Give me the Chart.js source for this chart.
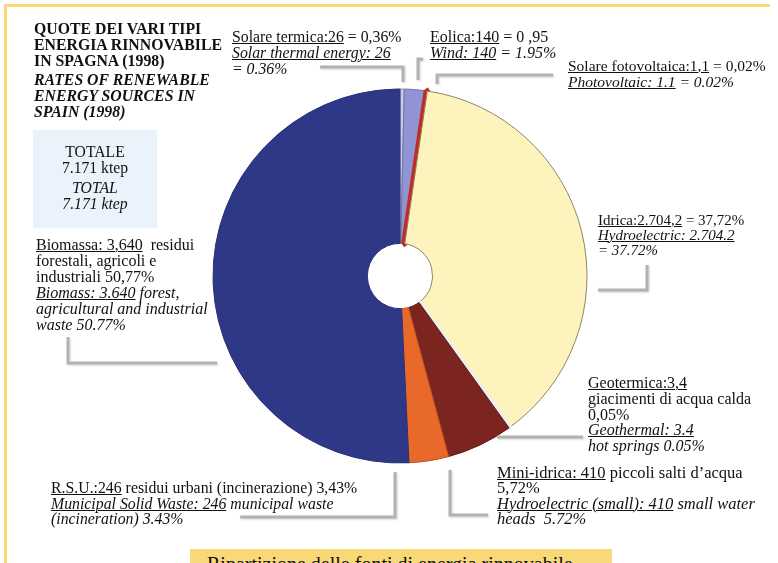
<!DOCTYPE html>
<html>
<head>
<meta charset="utf-8">
<script src="https://cdn.jsdelivr.net/npm/chart.js@4.4.1/dist/chart.umd.min.js"></script>
<style>
  html, body { margin: 0; padding: 0; background: #fff; }
  #wrap { position: relative; width: 778px; height: 563px; overflow: hidden; font-family: "Liberation Serif", "Times New Roman", serif; color: #111; }
  canvas { position: absolute; left: 0; top: 0; }
  .t { position: absolute; font-size: 15.8px; line-height: 16px; white-space: nowrap; }
  .t u { text-decoration-thickness: 1px; text-underline-offset: 1px; }
  .title { font-weight: bold; font-size: 15.8px; left: 34px; }
  .bar { position: absolute; background: #fbd979; }
</style>
</head>
<body>
<div id="wrap">
  <canvas id="c" width="778" height="563"></canvas>
  <div class="bar" style="left:4px;top:4px;width:3px;height:559px"></div>
  <div class="bar" style="left:4px;top:4px;width:766px;height:3px"></div>

  <div class="t title" style="top:21px">QUOTE DEI VARI TIPI<br>ENERGIA RINNOVABILE<br>IN SPAGNA (1998)</div>
  <div class="t title" style="top:72px;font-style:italic">RATES OF RENEWABLE<br>ENERGY SOURCES IN<br>SPAIN (1998)</div>

  <div style="position:absolute;left:33px;top:130px;width:124px;height:98px;background:#eaf2fb"></div>
  <div class="t" style="left:33px;width:124px;text-align:center;top:144px;font-size:15.7px">TOTALE<br>7.171 ktep</div>
  <div class="t" style="left:33px;width:124px;text-align:center;top:180px;font-style:italic;font-size:15.7px">TOTAL<br>7.171 ktep</div>

  <div class="t" style="left:232px;top:29px"><u>Solare termica:26</u> = 0,36%<br><i><u>Solar thermal energy: 26</u></i><br><i>= 0.36%</i></div>
  <div class="t" style="left:430px;top:29px;font-size:16px"><u>Eolica:140</u> = 0 ,95<br><i><u>Wind: 140</u> = 1.95%</i></div>
  <div class="t" style="left:568px;top:58px;font-size:15.5px"><u>Solare fotovoltaica:1,1</u> = 0,02%<br><i><u>Photovoltaic: 1.1</u> = 0.02%</i></div>
  <div class="t" style="left:598px;top:213px;line-height:15px;font-size:15px"><u>Idrica:2.704,2</u> = 37,72%<br><i><u>Hydroelectric: 2.704.2</u></i><br><i>= 37.72%</i></div>
  <div class="t" style="left:588px;top:375px;line-height:15.8px;font-size:16px"><u>Geotermica:3,4</u><br>giacimenti di acqua calda<br>0,05%<br><i><u>Geothermal: 3.4</u></i><br><i>hot springs 0.05%</i></div>
  <div class="t" style="left:497px;top:465px;line-height:15.3px;font-size:16.5px"><u>Mini-idrica: 410</u> piccoli salti d’acqua<br>5,72%<br><i><u>Hydroelectric (small): 410</u> small water</i><br><i>heads&nbsp; 5.72%</i></div>
  <div class="t" style="left:51px;top:480px;line-height:15.5px"><u>R.S.U.:246</u> residui urbani (incinerazione) 3,43%<br><i><u>Municipal Solid Waste: 246</u> municipal waste</i><br><i>(incineration) 3.43%</i></div>
  <div class="t" style="left:36px;top:237px;font-size:16px"><u>Biomassa: 3,640</u>&nbsp; residui<br>forestali, agricoli e<br>industriali 50,77%<br><i><u>Biomass: 3.640</u> forest,</i><br><i>agricultural and industrial</i><br><i>waste 50.77%</i></div>

  <div style="position:absolute;left:190px;top:549px;width:422px;height:30px;background:#f9d878"></div>
  <div class="t" style="left:207px;top:552px;font-size:20px;line-height:24px">Ripartizione delle fonti di energia rinnovabile</div>
</div>
<script>
// ---- data (ktep, 1998) ----
const categories = ["Solare termica", "Eolica", "Solare fotovoltaica", "Idrica", "Geotermica", "Mini-idrica", "R.S.U.", "Biomassa"];
const valuesKtep = [26, 140, 1.1, 2704.2, 3.4, 410, 246, 3640];

// ---- styles ----
const sliceColors = ["#c9cbe9", "#8f95d3", "#c32a22", "#fdf4bd", "#eeeef5", "#7c2420", "#e8692a", "#2f3886"];
const sliceBorderColors = ["#8f8fa8", "#6f74a8", "#c32a22", "#8e8466", "#eeeef5", "#5a1a18", "#b5521f", "#2a3278"];
const sliceBorderWidths = [1, 1, 7, 1, 5, 1, 1, 1];

// leader line layout (decorative connectors, pixels)
const leaders = [
  [[320,67],[403,67],[403,82]],
  [[423,59],[418,59],[418,80]],
  [[553,75],[437,75],[437,84]],
  [[598,290],[647,290],[647,265]],
  [[497,437],[583,437]],
  [[450,470],[450,515],[488,515]],
  [[240,517],[395,517],[395,472]],
  [[68,337],[68,363],[217,363]]
];

const leaderPlugin = {
  id: 'leaders',
  afterDraw(chart) {
    const ctx = chart.ctx;
    ctx.save();
    ctx.strokeStyle = '#b3b3b3';
    ctx.lineWidth = 3;
    ctx.lineCap = 'butt';
    ctx.lineJoin = 'miter';
    ctx.shadowColor = 'rgba(0,0,0,0.18)';
    ctx.shadowBlur = 2;
    ctx.shadowOffsetX = 1;
    ctx.shadowOffsetY = 1;
    leaders.forEach(pts => {
      ctx.beginPath();
      pts.forEach((p, i) => i ? ctx.lineTo(p[0], p[1]) : ctx.moveTo(p[0], p[1]));
      ctx.stroke();
    });
    ctx.restore();
  }
};

new Chart(document.getElementById('c'), {
  type: 'doughnut',
  data: {
    labels: categories,
    datasets: [{
      data: valuesKtep,
      backgroundColor: sliceColors,
      borderColor: sliceBorderColors,
      borderWidth: sliceBorderWidths,
      hoverOffset: 0
    }]
  },
  options: {
    responsive: false,
    animation: false,
    radius: 187,
    cutout: 32,
    rotation: 0,
    layout: { padding: { left: 202, right: 180, top: 89, bottom: 100 } },
    plugins: { legend: { display: false }, tooltip: { enabled: false }, title: { display: false } }
  },
  plugins: [leaderPlugin]
});
</script>
</body>
</html>
